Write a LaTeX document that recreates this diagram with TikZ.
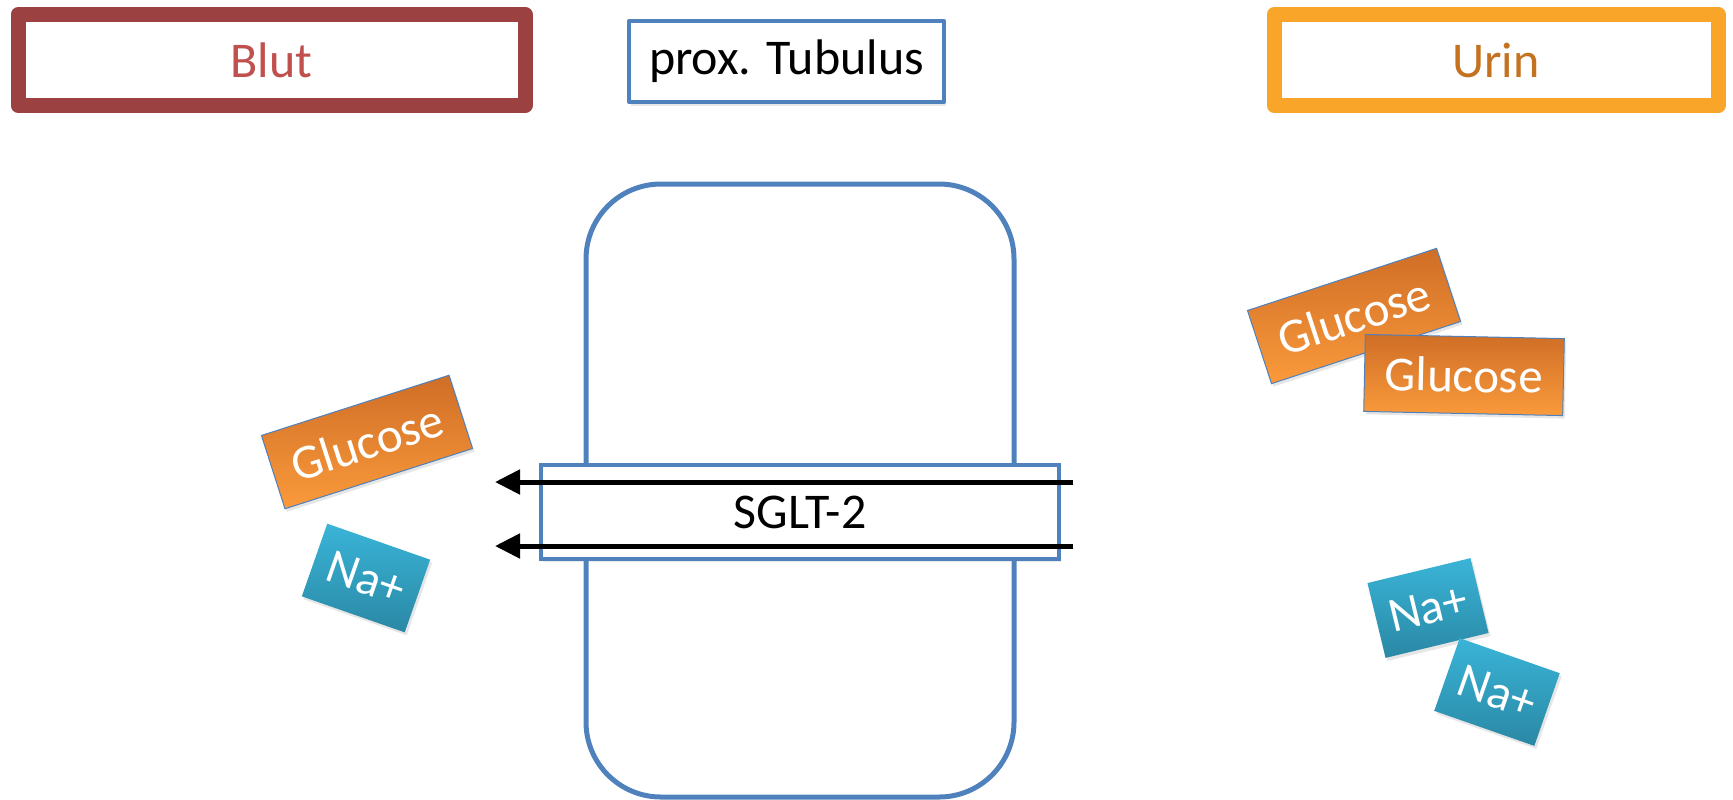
\documentclass[tikz,border=0pt]{standalone}
\usepackage{fontspec}
\setmainfont{Carlito}
\usetikzlibrary{arrows.meta,shadows}
\definecolor{blutred}{HTML}{9B4141}
\definecolor{bluttext}{HTML}{C0504D}
\definecolor{urinorange}{HTML}{F8A52A}
\definecolor{urintext}{HTML}{C4721F}
\definecolor{tubblue}{HTML}{4F81BD}
\definecolor{glctop}{HTML}{CF6E26}
\definecolor{glcbot}{HTML}{FA9A3B}
\definecolor{natop}{HTML}{3AB4D7}
\definecolor{nabot}{HTML}{2A88A5}
\begin{document}
\begin{tikzpicture}[x=0.5pt,y=-0.5pt,
  lbl/.style={font=\fontsize{25}{30}\selectfont, inner sep=0pt, align=center},
  header/.style={lbl, draw, fill=white, line join=round,
    drop shadow={opacity=0.18,shadow xshift=1pt,shadow yshift=-2pt}},
  molshadow/.style={drop shadow={opacity=0.2,shadow xshift=1pt,shadow yshift=-1.5pt}},
  glc/.style={font=\fontsize{24.5}{29}\selectfont, text=white, inner sep=0pt,
    minimum width=98.5pt, minimum height=38.5pt, draw=tubblue, line width=0.5pt,
    top color=glctop, bottom color=glcbot, molshadow},
  na/.style={font=\fontsize{24.5}{29}\selectfont, text=white, inner sep=0pt,
    minimum width=53pt, minimum height=38.5pt,
    top color=natop, bottom color=nabot, molshadow},
  flow/.style={line width=2.5pt, -{Triangle[length=12.5pt,width=12pt]}}
]
\useasboundingbox (0,0) rectangle (1733,799);

% cell (proximal tubule)
\node[draw=tubblue, line width=2.5pt, rounded corners=37.5pt,
      minimum width=214pt, minimum height=306.5pt, inner sep=0pt] (cell) at (800,490.5) {};

% SGLT-2 transporter
\node[lbl, draw=tubblue, fill=white, line width=2.4pt,
      minimum width=259pt, minimum height=47pt,
      drop shadow={opacity=0.18,shadow xshift=1pt,shadow yshift=-1.5pt}] (sglt) at (800,512) {SGLT-2};

% arrows
\coordinate (a1s) at (1073,482);
\coordinate (a1e) at (495,482);
\coordinate (a2s) at (1073,546);
\coordinate (a2e) at (495,546);
\draw[flow] (a1s) -- (a1e);
\draw[flow] (a2s) -- (a2e);

% headers
\node[header, draw=blutred, line width=7.5pt, text=bluttext,
      minimum width=253.5pt, minimum height=45.5pt] (blut) at (271.5,60) {Blut};
\node[header, draw=tubblue, line width=2pt, text=black,
      minimum width=157.5pt, minimum height=40.5pt] (tub) at (786.5,61.5) {prox. Tubulus};
\node[header, draw=urinorange, line width=7.5pt, text=urintext,
      minimum width=222pt, minimum height=45.5pt] (urin) at (1496,60) {Urin};

% molecules, blood side
\node[glc, rotate=17.8] (glcL) at (367,442) {Glucose};
\node[na, minimum width=54.5pt, rotate=-19.3] (naL) at (366,578) {Na+};

% molecules, urine side
\node[glc, minimum width=99.5pt, rotate=18.2] (glcR1) at (1354,316) {Glucose};
\node[glc, minimum width=99.5pt, rotate=-1.2] (glcR2) at (1464,375) {Glucose};
\node[na, rotate=13.6] (naR1) at (1428,608) {Na+};
\node[na, rotate=-19.3] (naR2) at (1497,692) {Na+};
\end{tikzpicture}
\end{document}
